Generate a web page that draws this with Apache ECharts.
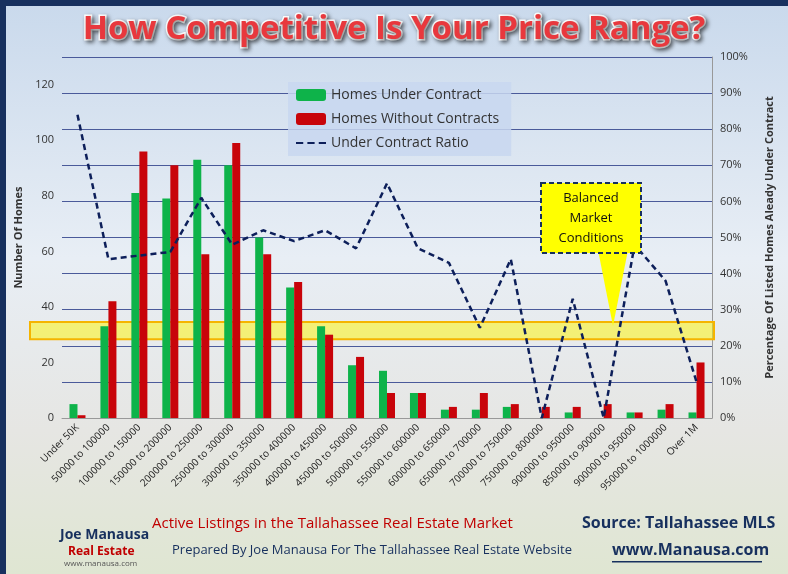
<!DOCTYPE html>
<html><head><meta charset="utf-8">
<script src="https://cdn.jsdelivr.net/npm/echarts@6/dist/echarts.min.js"></script>
<style>html,body{margin:0;padding:0;}#c{width:788px;height:574px;}</style>
</head><body><div id="c"></div>
<script>
const categories = ["Under 50K","50000 to 100000","100000 to 150000","150000 to 200000","200000 to 250000","250000 to 300000","300000 to 350000","350000 to 400000","400000 to 450000","450000 to 500000","500000 to 550000","550000 to 600000","600000 to 650000","650000 to 700000","700000 to 750000","750000 to 800000","900000 to 950000","850000 to 900000","900000 to 950000","950000 to 1000000","Over 1M"];
const underContract = [5,33,81,79,93,91,65,47,33,19,17,9,3,3,4,0,2,0,2,3,2];
const withoutContract = [1,42,96,91,59,99,59,49,30,22,9,9,4,9,5,4,4,5,2,5,20];
const ratio = [84,44,45,46,61,48,52,49,52,47,65,47,43,25,44,0,33,0,48,38,10];

const chart = echarts.init(document.getElementById('c'));
chart.setOption({
  backgroundColor: {type:'linear',x:0,y:0,x2:0,y2:1,colorStops:[{offset:0,color:'#c9d9ec'},{offset:0.45,color:'#e8eef5'},{offset:0.75,color:'#e6e6e3'},{offset:1,color:'#dfe6d2'}]},
  title: {text:'How Competitive Is Your Price Range?', left:'center', top:8,
    textStyle:{fontFamily:'Open Sans', fontSize:33, fontWeight:'bold', color:'#e8383d', textBorderColor:'#ffffff', textBorderWidth:3, textShadowColor:'rgba(0,0,0,0.5)', textShadowBlur:4, textShadowOffsetX:2, textShadowOffsetY:2}},
  legend: {orient:'vertical', left:288, top:82, itemGap:10, itemWidth:30, itemHeight:12,
    backgroundColor:'rgba(200,215,240,0.85)', padding:[6,12,6,8],
    textStyle:{fontFamily:'Open Sans', fontSize:14, color:'#333'},
    data:['Homes Under Contract','Homes Without Contracts',
      {name:'Under Contract Ratio', icon:'path://M0,5L7,5L7,7L0,7Z M11,5L18,5L18,7L11,7Z M22,5L29,5L29,7L22,7Z'}]},
  grid: {left:62, right:76, top:57, bottom:156},
  xAxis: {type:'category', data:categories, axisTick:{show:false},
    axisLine:{lineStyle:{color:'#999'}},
    axisLabel:{rotate:45, interval:0, fontFamily:'Open Sans', fontSize:10, color:'#222'}},
  yAxis: [
    {type:'value', min:0, max:130, interval:20, name:'Number Of Homes', nameLocation:'middle', nameGap:38,
     nameTextStyle:{fontFamily:'Open Sans', fontSize:11, fontWeight:'bold', color:'#333'},
     splitLine:{show:false}, axisLabel:{fontFamily:'Open Sans', fontSize:11, color:'#333', showMaxLabel:false}},
    {type:'value', min:0, max:100, interval:10, name:'Percentage Of Listed Homes Aleady Under Contract', nameLocation:'middle', nameGap:52,
     nameTextStyle:{fontFamily:'Open Sans', fontSize:11, fontWeight:'bold', color:'#333'},
     axisLine:{show:true, lineStyle:{color:'#999'}},
     splitLine:{lineStyle:{color:'#4a5a9a', width:1}},
     axisLabel:{formatter:'{value}%', fontFamily:'Open Sans', fontSize:11, color:'#333'}}
  ],
  series: [
    {name:'Homes Under Contract', type:'bar', data:underContract, barWidth:8, barGap:'0%', itemStyle:{color:'#0eb34a'}},
    {name:'Homes Without Contracts', type:'bar', data:withoutContract, barWidth:8, itemStyle:{color:'#c8040a'}},
    {name:'Under Contract Ratio', type:'line', yAxisIndex:1, data:ratio, symbol:'none', z:5,
     lineStyle:{color:'#0d1f5a', width:2.5, type:[6,4]}, itemStyle:{color:'#0d1f5a'},
     markArea:{silent:true, itemStyle:{color:'rgba(255,245,0,0.5)', borderColor:'#f5b400', borderWidth:2},
       data:[[{yAxis:21.8, x:30},{yAxis:26.6, x:714}]]}}
  ],
  graphic: [
    {type:'rect', left:0, top:0, shape:{width:788, height:574}, style:{fill:'none', stroke:'#17305e', lineWidth:6}},
    {type:'polygon', shape:{points:[[598,250],[628,250],[613,326]]}, style:{fill:'#ffff00'}, z:10},
    {type:'rect', left:540, top:182, shape:{width:100, height:70}, style:{fill:'#ffff00', stroke:'#17305e', lineWidth:2, lineDash:[5,3]}, z:11,
     textContent:{style:{text:'Balanced\nMarket\nConditions', align:'center', verticalAlign:'middle', fontFamily:'Open Sans', fontSize:13, lineHeight:20, fill:'#111'}, z:12},
     textConfig:{position:'inside'}},
    {type:'text', left:152, top:516, style:{text:'Active Listings in the Tallahassee Real Estate Market', fontFamily:'Open Sans', fontSize:15, fill:'#c00000'}},
    {type:'text', left:582, top:515, style:{text:'Source: Tallahassee MLS', fontFamily:'Open Sans', fontSize:16, fontWeight:'bold', fill:'#17305e'}},
    {type:'text', left:172, top:544, style:{text:'Prepared By Joe Manausa For The Tallahassee Real Estate Website', fontFamily:'Open Sans', fontSize:13, fill:'#17305e'}},
    {type:'text', left:612, top:542, style:{text:'www.Manausa.com', fontFamily:'Open Sans', fontSize:16, fontWeight:'bold', fill:'#17305e'}},
    {type:'rect', left:612, top:561, shape:{width:150, height:1.5}, style:{fill:'#17305e'}},
    {type:'text', left:60, top:528, style:{text:'Joe Manausa', fontFamily:'Open Sans', fontSize:14, fontWeight:'bold', fill:'#17305e'}},
    {type:'text', left:68, top:546, style:{text:'Real Estate', fontFamily:'Open Sans', fontSize:12, fontWeight:'bold', fill:'#c00000'}},
    {type:'text', left:64, top:560, style:{text:'www.manausa.com', fontFamily:'Open Sans', fontSize:8, fill:'#555'}}
  ]
});
</script></body></html>
